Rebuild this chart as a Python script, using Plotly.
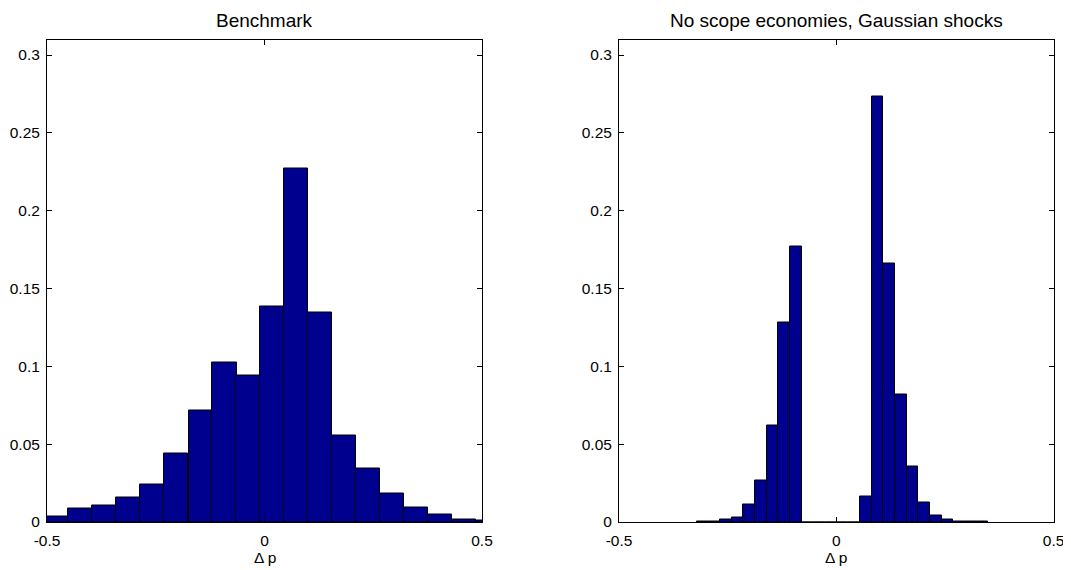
import plotly.graph_objects as go
from plotly.subplots import make_subplots

# ---- data ----
left_title = "Benchmark"
right_title = "No scope economies, Gaussian shocks"
x_label = "\u0394 p"

left_bin_width = 0.0553
left_centers = [-0.479, -0.424, -0.368, -0.313, -0.258, -0.203, -0.147, -0.092,
                -0.037, 0.018, 0.073, 0.127, 0.182, 0.238, 0.293, 0.348,
                0.403, 0.458, 0.513]
left_heights = [0.0034, 0.0088, 0.0105, 0.0159, 0.0240, 0.0439, 0.0717, 0.1026,
                0.0944, 0.1387, 0.2274, 0.1344, 0.0557, 0.0342, 0.0186, 0.0096,
                0.0048, 0.0016, 0.0007]

right_bin_width = 0.02686
right_centers = [-0.3078, -0.2810, -0.2541, -0.2273, -0.2004, -0.1736, -0.1467,
                 -0.1199, -0.0930, -0.0662, -0.0393, -0.0125, 0.0144, 0.0412,
                 0.0681, 0.0949, 0.1218, 0.1486, 0.1755, 0.2024, 0.2292,
                 0.2561, 0.2829, 0.3098, 0.3366]
right_heights = [0.0002, 0.0005, 0.0014, 0.0032, 0.0110, 0.0265, 0.0619,
                 0.1280, 0.1773, 0.0, 0.0, 0.0, 0.0, 0.0,
                 0.0165, 0.2736, 0.1661, 0.0818, 0.0358, 0.0126, 0.0045,
                 0.0013, 0.0004, 0.0002, 0.0001]

x_tickvals = [-0.5, 0, 0.5]
x_ticktext = ["-0.5", "0", "0.5"]
y_tickvals = [0, 0.05, 0.1, 0.15, 0.2, 0.25, 0.3]
y_ticktext = ["0", "0.05", "0.1", "0.15", "0.2", "0.25", "0.3"]

# ---- figure ----
OFF = 8  # page body margin
W, H = 1071 - OFF, 570 - OFF
FONT = "Liberation Sans, Arial, Helvetica, sans-serif"
BAR_COLOR = "rgb(0,0,143)"

fig = make_subplots(rows=1, cols=2)

fig.add_trace(go.Bar(x=left_centers, y=left_heights, width=left_bin_width,
                     marker=dict(color=BAR_COLOR, line=dict(color="black", width=1)),
                     showlegend=False), row=1, col=1)
fig.add_trace(go.Bar(x=right_centers, y=right_heights, width=right_bin_width,
                     marker=dict(color=BAR_COLOR, line=dict(color="black", width=1)),
                     showlegend=False), row=1, col=2)

left_px = (47 - OFF, 482 - OFF)
right_px = (619 - OFF, 1053.6 - OFF)
top_px, bot_px = 39.5 - OFF, 522 - OFF

ax_common = dict(showgrid=False, zeroline=False, showline=True, linecolor="black",
                 linewidth=1, mirror="ticks", ticks="inside", ticklen=5,
                 tickcolor="black", tickwidth=1, automargin=False,
                 tickfont=dict(family=FONT, size=15.5, color="black"))

fig.update_xaxes(range=[-0.5, 0.5], tickvals=x_tickvals, ticktext=x_ticktext,
                 ticklabelstandoff=4, **ax_common)
fig.update_yaxes(range=[0, 0.31], tickvals=y_tickvals, ticktext=y_ticktext,
                 ticklabelstandoff=3, **ax_common)

fig.update_layout(
    width=W, height=H,
    margin=dict(l=0, r=0, t=0, b=0),
    paper_bgcolor="white", plot_bgcolor="white",
    bargap=0,
    xaxis=dict(domain=[left_px[0] / W, left_px[1] / W]),
    xaxis2=dict(domain=[right_px[0] / W, right_px[1] / W]),
    yaxis=dict(domain=[1 - bot_px / H, 1 - top_px / H]),
    yaxis2=dict(domain=[1 - bot_px / H, 1 - top_px / H]),
)

annots = []
for (x0, x1), t in [(left_px, left_title), (right_px, right_title)]:
    cx = (x0 + x1) / 2 / W
    annots.append(dict(text=t, x=cx, y=1 - (21 - OFF) / H, xref="paper", yref="paper",
                       xanchor="center", yanchor="middle", showarrow=False,
                       font=dict(family=FONT, size=19, color="black")))
    annots.append(dict(text=x_label, x=cx, y=1 - (557 - OFF) / H, xref="paper", yref="paper",
                       xanchor="center", yanchor="middle", showarrow=False,
                       font=dict(family=FONT, size=15.5, color="black")))
fig.update_layout(annotations=annots)

fig.write_html("out.html")
